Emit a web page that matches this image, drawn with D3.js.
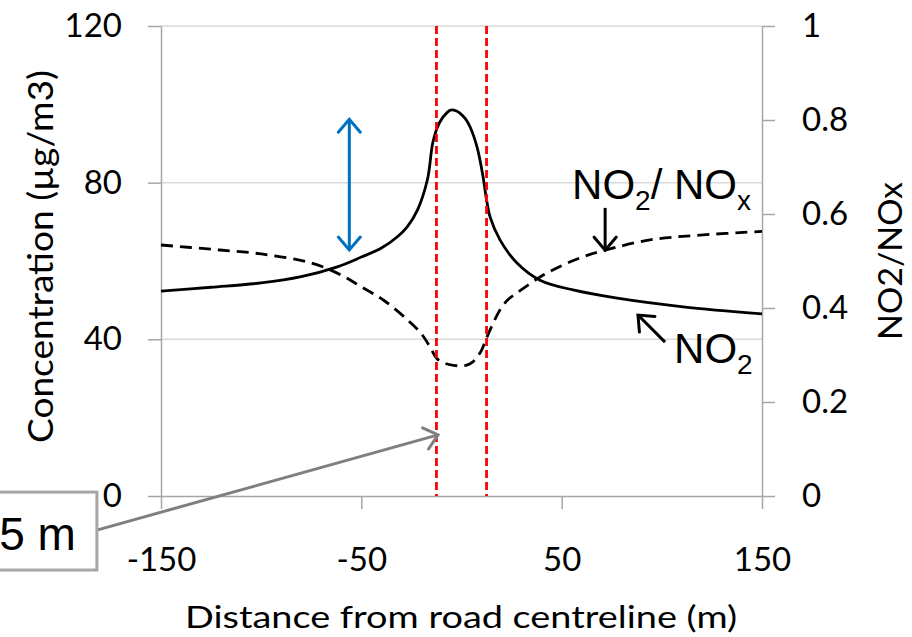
<!DOCTYPE html>
<html>
<head>
<meta charset="utf-8">
<script src="https://cdn.jsdelivr.net/npm/d3@7"></script>
<style>
  body { margin: 0; background: #fff; }
  .tick text { font-family: Lato, sans-serif; font-size: 33px; fill: #000; }
  .axis path, .axis line { stroke: #a6a6a6; stroke-width: 1.5; }
  .title { font-family: Lato, sans-serif; fill: #000; }
  .note { font-family: "Liberation Sans", Arial, sans-serif; fill: #000; }
</style>
</head>
<body>
<svg id="chart" width="912" height="637"></svg>
<script>
// distance from road centreline (m)
const xTicks = [-150, -50, 50, 150];
const leftTicks = [0, 40, 80, 120];
const rightTicks = [0, 0.2, 0.4, 0.6, 0.8, 1];

// NO2 concentration (µg/m3)
const no2X = [-150, -125, -100, -80, -62, -50, -40, -32, -27, -22, -17, -14.2, -11, -7, -5, -2.5, -0.7, 2, 4.3, 7.8, 10.8, 12.3, 14.3, 19.2, 27.7, 39.2, 55.7, 77.7, 110.6, 150];
const no2Y = [52.3, 53.3, 54.4, 56, 58.5, 61, 63.3, 66.2, 68.8, 73, 80.8, 90.5, 95.3, 98, 98.6, 98.3, 97.7, 96.3, 94.2, 89, 81.4, 76.3, 71.2, 65.4, 59.5, 55.1, 52.6, 50.5, 48.3, 46.5];

// NO2/NOx ratio (right axis)
const ratioX = [-150, -125, -100, -75, -60, -50, -39, -27, -20, -15.7, -12.2, -8, -4, 0, 3, 5.5, 7.8, 10, 12.3, 15.5, 19.2, 23, 27.7, 39.2, 50, 60.7, 71.7, 94.1, 119, 150];
const ratioY = [0.534, 0.525, 0.515, 0.496, 0.47, 0.445, 0.417, 0.375, 0.345, 0.317, 0.292, 0.282, 0.278, 0.277, 0.279, 0.285, 0.296, 0.31, 0.334, 0.365, 0.396, 0.417, 0.432, 0.466, 0.49, 0.509, 0.523, 0.545, 0.555, 0.563];

// road edges
const roadEdges = [-12.5, 12.5];

const svg = d3.select("#chart");
const x = d3.scaleLinear([-150, 150], [161, 762]);
const yL = d3.scaleLinear([0, 120], [496, 26]);
const yR = d3.scaleLinear([0, 1], [496, 26]);

// markers (open arrowheads)
const defs = svg.append("defs");
function marker(id, color) {
  defs.append("marker")
    .attr("id", id)
    .attr("viewBox", "-16 -13 20 26")
    .attr("markerWidth", 20).attr("markerHeight", 26)
    .attr("markerUnits", "userSpaceOnUse")
    .attr("refX", 0).attr("refY", 0)
    .attr("orient", "auto-start-reverse")
    .append("path")
    .attr("d", "M-13,-11L0,0L-13,11")
    .attr("fill", "none").attr("stroke", color)
    .attr("stroke-width", 3).attr("stroke-linecap", "round");
}
marker("head-blue", "#0070c0");
marker("head-gray", "#7f7f7f");
marker("head-black", "#000");

// gridlines
svg.append("g").selectAll("line")
  .data(leftTicks.filter(d => d > 0))
  .join("line")
  .attr("x1", x(-150)).attr("x2", x(150))
  .attr("y1", d => yL(d)).attr("y2", d => yL(d))
  .attr("stroke", "#d9d9d9").attr("stroke-width", 1.5);

// axes
const plain = d => String(d);

svg.append("g").attr("class", "axis")
  .attr("transform", `translate(${x(-150)},0)`)
  .call(d3.axisLeft(yL).tickValues(leftTicks).tickSize(13).tickSizeOuter(0).tickPadding(26).tickFormat(plain));

svg.append("g").attr("class", "axis")
  .attr("transform", `translate(${x(150)},0)`)
  .call(d3.axisRight(yR).tickValues(rightTicks).tickSize(13).tickSizeOuter(0).tickPadding(27).tickFormat(plain));

svg.append("g").attr("class", "axis")
  .attr("transform", `translate(0,${yL(0)})`)
  .call(d3.axisBottom(x).tickValues(xTicks).tickSize(13).tickSizeOuter(0).tickPadding(39).tickFormat(plain));

svg.selectAll(".axis .domain").attr("stroke", "#a6a6a6");

// axis titles
svg.append("text").attr("class", "title")
  .attr("transform", `translate(53,${(70 + 443) / 2}) rotate(-90)`)
  .attr("text-anchor", "middle").attr("font-size", 35)
  .attr("textLength", 373).attr("lengthAdjust", "spacingAndGlyphs")
  .text("Concentration (µg/m3)");

svg.append("text").attr("class", "title")
  .attr("transform", `translate(902,261) rotate(-90)`)
  .attr("text-anchor", "middle").attr("font-size", 33)
  .attr("textLength", 158).attr("lengthAdjust", "spacingAndGlyphs")
  .text("NO2/NOx");

svg.append("text").attr("class", "title")
  .attr("x", 461).attr("y", 628)
  .attr("text-anchor", "middle").attr("font-size", 31)
  .attr("textLength", 552).attr("lengthAdjust", "spacingAndGlyphs")
  .text("Distance from road centreline (m)");

// curves
const no2Line = d3.line().x(d => x(d[0])).y(d => yL(d[1])).curve(d3.curveCatmullRom.alpha(0.5));
const ratioLine = d3.line().x(d => x(d[0])).y(d => yR(d[1])).curve(d3.curveCatmullRom.alpha(0.5));

svg.append("path")
  .attr("d", ratioLine(d3.zip(ratioX, ratioY)))
  .attr("fill", "none").attr("stroke", "#000")
  .attr("stroke-width", 2.8).attr("stroke-dasharray", "12,7");

svg.append("path")
  .attr("d", no2Line(d3.zip(no2X, no2Y)))
  .attr("fill", "none").attr("stroke", "#000").attr("stroke-width", 2.8);

// road edges
svg.append("g").selectAll("line")
  .data(roadEdges)
  .join("line")
  .attr("x1", d => x(d)).attr("x2", d => x(d))
  .attr("y1", yL(120)).attr("y2", yL(0))
  .attr("stroke", "#ff0000").attr("stroke-width", 2.8)
  .attr("stroke-dasharray", "8,4");

// blue double arrow
svg.append("line")
  .attr("x1", x(-56)).attr("x2", x(-56))
  .attr("y1", yL(96.2)).attr("y2", yL(62.8))
  .attr("stroke", "#0070c0").attr("stroke-width", 3)
  .attr("marker-start", "url(#head-blue)").attr("marker-end", "url(#head-blue)");

// 5 m box with gray arrow
svg.append("line")
  .attr("x1", x(-182)).attr("y1", yL(-8.7))
  .attr("x2", x(-11.7)).attr("y2", yL(15.6))
  .attr("stroke", "#7f7f7f").attr("stroke-width", 3)
  .attr("marker-end", "url(#head-gray)");

svg.append("rect")
  .attr("x", x(-236)).attr("y", yL(1))
  .attr("width", x(-182) - x(-236)).attr("height", yL(-18.9) - yL(1))
  .attr("fill", "#fff").attr("stroke", "#a6a6a6").attr("stroke-width", 3);

svg.append("text").attr("class", "note")
  .attr("x", x(-192.5)).attr("y", yL(-13.8))
  .attr("text-anchor", "end").attr("font-size", 46)
  .text("5 m");

// NO2/NOx label and arrow
svg.append("line")
  .attr("x1", x(71.7)).attr("x2", x(71.7))
  .attr("y1", yR(0.613)).attr("y2", yR(0.523))
  .attr("stroke", "#000").attr("stroke-width", 3)
  .attr("marker-end", "url(#head-black)");

const lab1 = svg.append("text").attr("class", "note")
  .attr("x", x(55.2)).attr("y", yR(0.632)).attr("font-size", 42);
lab1.append("tspan").text("NO");
lab1.append("tspan").attr("font-size", 28).attr("dy", 11).text("2");
lab1.append("tspan").attr("dy", -11).text("/ NO");
lab1.append("tspan").attr("font-size", 28).attr("dy", 11).text("x");

// NO2 label and arrow
svg.append("line")
  .attr("x1", x(101.6)).attr("y1", yL(39.3))
  .attr("x2", x(88.1)).attr("y2", yL(46.2))
  .attr("stroke", "#000").attr("stroke-width", 3)
  .attr("marker-end", "url(#head-black)");

const lab2 = svg.append("text").attr("class", "note")
  .attr("x", x(106.1)).attr("y", yL(34)).attr("font-size", 42);
lab2.append("tspan").text("NO");
lab2.append("tspan").attr("font-size", 28).attr("dy", 11).text("2");
</script>
</body>
</html>
